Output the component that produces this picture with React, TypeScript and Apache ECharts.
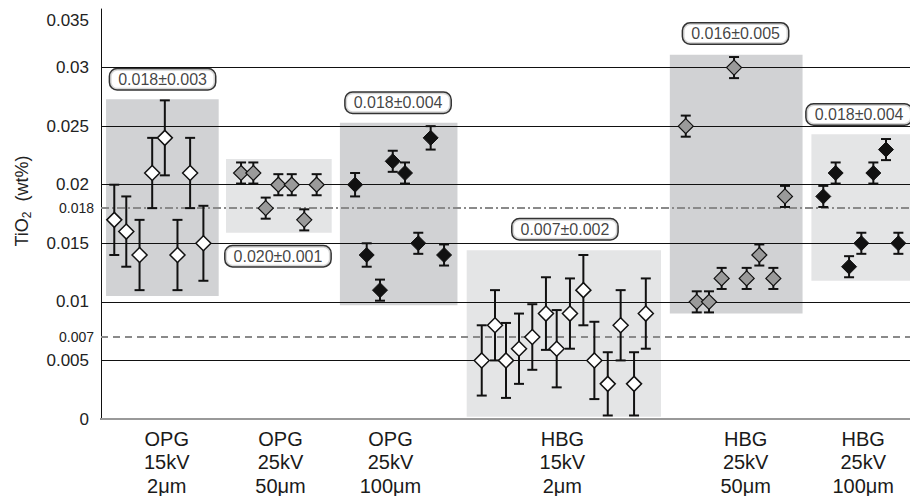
import React, { useEffect, useRef } from 'react';
import * as echarts from 'echarts';

const FONT = '"Liberation Sans", Arial, Helvetica, sans-serif';

// X-axis group labels and their positions (sample-position units)
const xLabels = ['OPG\n15kV\n2μm', 'OPG\n25kV\n50μm', 'OPG\n25kV\n100μm', 'HBG\n15kV\n2μm', 'HBG\n25kV\n50μm', 'HBG\n25kV\n100μm'];
const xLabelPos = [5.2, 14.2, 22.9, 36.5, 51.0, 60.3];

// Y-axis tick labels
const yTickLabels = ['0', '0.005', '0.01', '0.015', '0.02', '0.025', '0.03', '0.035'];
const refValues = [0.007, 0.018];
const refLabels = ['0.007', '0.018'];

// Group 1: OPG 15kV 2µm (white)
const g1X = [1.05, 2.0, 3.05, 4.05, 5.05, 6.05, 7.05, 8.1];
const g1Y = [0.017, 0.016, 0.014, 0.021, 0.024, 0.014, 0.021, 0.015];
const g1E = [0.003, 0.003, 0.003, 0.003, 0.0032, 0.003, 0.003, 0.0032];

// Group 2: OPG 25kV 50µm (grey)
const g2X = [11.08, 12.05, 13.03, 14.03, 15.09, 16.08, 17.06];
const g2Y = [0.021, 0.021, 0.018, 0.020, 0.020, 0.017, 0.020];
const g2E = [0.0009, 0.0009, 0.0009, 0.0009, 0.0009, 0.0009, 0.0009];

// Group 3: OPG 25kV 100µm (black)
const g3X = [20.1, 21.02, 22.07, 23.08, 24.05, 25.1, 26.08, 27.14];
const g3Y = [0.020, 0.014, 0.011, 0.022, 0.021, 0.015, 0.024, 0.014];
const g3E = [0.001, 0.001, 0.0009, 0.0009, 0.0009, 0.0009, 0.001, 0.0009];

// Group 4: HBG 15kV 2µm (white)
const g4X = [30.12, 31.17, 32.04, 33.07, 34.12, 35.2, 36.05, 37.1, 38.16, 39.03, 40.09, 41.11, 42.17, 43.1];
const g4Y = [0.005, 0.008, 0.005, 0.006, 0.007, 0.009, 0.006, 0.009, 0.011, 0.005, 0.003, 0.008, 0.003, 0.009];
const g4E = [0.003, 0.003, 0.0032, 0.003, 0.0028, 0.0031, 0.0033, 0.003, 0.003, 0.0033, 0.0027, 0.003, 0.0027, 0.003];

// Group 5: HBG 25kV 50µm (grey)
const g5X = [46.26, 47.13, 48.1, 49.1, 50.08, 51.08, 52.08, 53.19, 54.11];
const g5Y = [0.025, 0.010, 0.010, 0.012, 0.030, 0.012, 0.014, 0.012, 0.019];
const g5E = [0.0009, 0.0009, 0.0009, 0.0009, 0.0009, 0.0009, 0.0009, 0.0009, 0.0009];

// Group 6: HBG 25kV 100µm (black)
const g6X = [57.14, 58.12, 59.18, 60.15, 61.1, 62.1, 63.08];
const g6Y = [0.019, 0.021, 0.013, 0.015, 0.021, 0.023, 0.015];
const g6E = [0.0009, 0.0009, 0.0009, 0.0009, 0.0009, 0.0009, 0.0009];

// Shaded group boxes: [xStart, xEnd, yLow, yHigh, dark(1)/light(0)]
const boxes = [
  [0.4, 9.31, 0.0105, 0.0273, 1],
  [9.89, 18.25, 0.0159, 0.0222, 0],
  [18.9, 28.2, 0.0097, 0.0253, 1],
  [28.93, 44.3, 0.0002, 0.0144, 0],
  [45.0, 55.5, 0.009, 0.0311, 1],
  [56.2, 64, 0.0118, 0.0243, 0],
];

// Group statistics labels
const statText = ['0.018±0.003', '0.020±0.001', '0.018±0.004', '0.007±0.002', '0.016±0.005', '0.018±0.004'];
const statX = [4.87, 14.0, 23.5, 36.7, 50.2, 59.97];
const statY = [0.029, 0.0139, 0.027, 0.0162, 0.0329, 0.026];

const pts = (xs: number[], ys: number[]) => xs.map((x, i) => [x, ys[i]]);
const bars = (xs: number[], ys: number[], es: number[]) => xs.map((x, i) => [x, ys[i] - es[i], ys[i] + es[i]]);

export default function App() {
  const ref = useRef<HTMLDivElement>(null);
  useEffect(() => {
    document.body.style.margin = '0';
    if (!ref.current) return;
    const chart = echarts.init(ref.current, undefined, { renderer: 'svg' });
    const XMIN = 0;
    const XMAX = 64;
    const option: any = {
      animation: false,
      textStyle: { fontFamily: FONT },
      grid: { left: 101, right: 0, top: 9, bottom: 77, containLabel: false, outerBoundsMode: 'none' },
      xAxis: [
        {
          type: 'value', min: XMIN, max: XMAX, z: 2,
          axisLine: { show: true, lineStyle: { color: '#444', width: 2 } },
          axisTick: { show: false },
          splitLine: { show: false },
          axisLabel: {
            customValues: xLabelPos,
            margin: 8,
            fontSize: 20, lineHeight: 23.5, color: '#1a1a1a', fontFamily: FONT,
            formatter: (v: number) => {
              let best = 0;
              xLabelPos.forEach((p, i) => { if (Math.abs(p - v) < Math.abs(xLabelPos[best] - v)) best = i; });
              return xLabels[best];
            },
          },
        },
        {
          type: 'value', min: XMIN, max: XMAX, position: 'top', z: 2,
          axisLine: { show: true, lineStyle: { color: '#999', width: 2 } },
          axisTick: { show: false }, axisLabel: { show: false }, splitLine: { show: false },
        },
      ],
      yAxis: [
        {
          type: 'value', min: 0, max: 0.035, interval: 0.005, z: 2,
          name: '{m|TiO}{s|2}{m|  (wt%)}', nameLocation: 'middle', nameRotate: 90, nameGap: 68,
          nameTextStyle: {
            color: '#222',
            padding: [0, 0, 0, 26],
            rich: {
              m: { fontSize: 18, lineHeight: 23, verticalAlign: 'middle', color: '#222', fontFamily: FONT },
              s: { fontSize: 12, lineHeight: 12, verticalAlign: 'bottom', color: '#222', fontFamily: FONT },
            },
          },
          axisLine: { show: true, lineStyle: { color: '#111', width: 1 } },
          axisTick: { show: false },
          splitLine: { show: true, showMaxLine: false, showMinLine: false, lineStyle: { color: '#111', width: 1 } },
          axisLabel: {
            margin: 12, fontSize: 17, color: '#222', fontFamily: FONT,
            formatter: (v: number) => {
              const idx = Math.round(v / 0.005);
              const t = yTickLabels[idx];
              return idx === yTickLabels.length - 1 ? '{t|' + t + '}' : t;
            },
            rich: { t: { fontSize: 17, color: '#222', fontFamily: FONT, padding: [22, 0, 0, 0] } },
          },
        },
        {
          type: 'value', min: 0, max: 0.035, position: 'left', z: 2,
          axisLine: { show: false }, axisTick: { show: false }, splitLine: { show: false },
          axisLabel: {
            customValues: refValues, margin: 7, fontSize: 14, color: '#222', fontFamily: FONT,
            formatter: (v: number) => {
              let best = 0;
              refValues.forEach((p, i) => { if (Math.abs(p - v) < Math.abs(refValues[best] - v)) best = i; });
              return refLabels[best];
            },
          },
        },
      ],
      series: [
        {
          type: 'custom', z: 1, xAxisIndex: 0, yAxisIndex: 0,
          data: boxes, encode: { x: [0, 1], y: [2, 3] }, silent: true,
          renderItem: (params: any, api: any) => {
            const p1 = api.coord([api.value(0), api.value(3)]);
            const p2 = api.coord([api.value(1), api.value(2)]);
            return {
              type: 'rect',
              shape: { x: p1[0], y: p1[1], width: p2[0] - p1[0], height: p2[1] - p1[1] },
              style: { fill: api.value(4) === 1 ? '#d1d2d4' : '#e4e5e6' },
            };
          },
        },
        {
          type: 'line', z: 3, data: [], xAxisIndex: 0, yAxisIndex: 0, silent: true,
          markLine: {
            z: 3, symbol: 'none', silent: true, precision: 6, label: { show: false },
            data: [
              { yAxis: refValues[1], lineStyle: { color: '#8a8a8a', width: 2, type: [8, 3, 2, 3] } },
              { yAxis: refValues[0], lineStyle: { color: '#8a8a8a', width: 2, type: [7, 5] } },
            ],
          },
        },
        {
          type: 'custom', z: 4, xAxisIndex: 0, yAxisIndex: 0, silent: true,
          data: [
            ...bars(g1X, g1Y, g1E), ...bars(g2X, g2Y, g2E), ...bars(g3X, g3Y, g3E),
            ...bars(g4X, g4Y, g4E), ...bars(g5X, g5Y, g5E), ...bars(g6X, g6Y, g6E),
          ],
          encode: { x: 0, y: [1, 2] },
          renderItem: (params: any, api: any) => {
            const x = api.value(0);
            const pl = api.coord([x, api.value(1)]);
            const ph = api.coord([x, api.value(2)]);
            const w = 5;
            const st = { stroke: '#111', lineWidth: 2 };
            return {
              type: 'group',
              children: [
                { type: 'line', shape: { x1: pl[0], y1: pl[1], x2: ph[0], y2: ph[1] }, style: st },
                { type: 'line', shape: { x1: pl[0] - w, y1: pl[1], x2: pl[0] + w, y2: pl[1] }, style: st },
                { type: 'line', shape: { x1: ph[0] - w, y1: ph[1], x2: ph[0] + w, y2: ph[1] }, style: st },
              ],
            };
          },
        },
        {
          type: 'scatter', z: 5, symbol: 'diamond', symbolSize: 15, silent: true,
          data: [...pts(g1X, g1Y), ...pts(g4X, g4Y)],
          itemStyle: { color: '#ffffff', borderColor: '#111', borderWidth: 1.5, opacity: 1 },
        },
        {
          type: 'scatter', z: 5, symbol: 'diamond', symbolSize: 15, silent: true,
          data: [...pts(g2X, g2Y), ...pts(g5X, g5Y)],
          itemStyle: { color: '#9a9a9a', borderColor: '#111', borderWidth: 1.2, opacity: 1 },
        },
        {
          type: 'scatter', z: 5, symbol: 'diamond', symbolSize: 15, silent: true,
          data: [...pts(g3X, g3Y), ...pts(g6X, g6Y)],
          itemStyle: { color: '#111111', borderColor: '#111', borderWidth: 1, opacity: 1 },
        },
        {
          type: 'scatter', z: 6, symbol: 'rect', symbolSize: 1, silent: true,
          itemStyle: { color: 'rgba(0,0,0,0)' },
          data: statX.map((x, i) => [x, statY[i], statText[i]]),
          label: {
            show: true, position: 'inside',
            formatter: (p: any) => p.data[2],
            fontSize: 16, lineHeight: 16, color: '#111', fontFamily: FONT,
            backgroundColor: '#ffffff', borderColor: '#000', borderWidth: 1.5, borderRadius: 7,
            padding: [2, 8, 2, 8],
          },
        },
      ],
    };
    chart.setOption(option);
    return () => chart.dispose();
  }, []);
  return <div ref={ref} style={{ width: 910, height: 496 }} />;
}
